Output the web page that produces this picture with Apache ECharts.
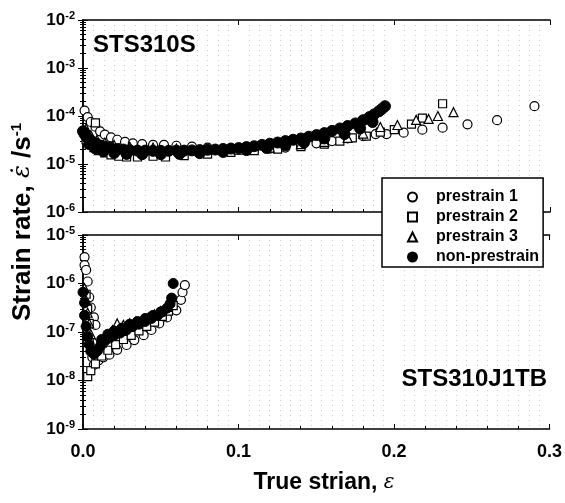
<!DOCTYPE html>
<html>
<head>
<meta charset="utf-8">
<script src="https://cdn.jsdelivr.net/npm/echarts@6/dist/echarts.min.js"></script>
<style>
  html, body { margin: 0; padding: 0; background: #fff; }
  #main { width: 565px; height: 503px; }
</style>
</head>
<body>
<div id="main"></div>
<script>
// legend / series names
const seriesNames = ['prestrain 1', 'prestrain 2', 'prestrain 3', 'non-prestrain'];
const xTicks = [0, 0.1, 0.2, 0.3];

// upper panel (STS310S): [true strain, strain rate]
const topPrestrain1 = [
  [0.001,1.3e-4],[0.003,9.5e-5],[0.005,7.5e-5],[0.008,6e-5],[0.011,4.8e-5],[0.014,4.1e-5],
  [0.018,3.6e-5],[0.022,3.2e-5],[0.027,2.9e-5],[0.032,2.7e-5],[0.038,2.6e-5],[0.045,2.5e-5],
  [0.052,2.5e-5],[0.060,2.4e-5],[0.070,2.3e-5],[0.080,2.2e-5],[0.090,2.1e-5],[0.100,2.0e-5],
  [0.110,2.0e-5],[0.120,2.1e-5],[0.130,2.2e-5],[0.140,2.4e-5],[0.150,2.7e-5],[0.160,3.0e-5],
  [0.170,3.4e-5],[0.180,3.8e-5],[0.188,4.2e-5],[0.195,4.2e-5],[0.206,4.5e-5],[0.218,5.2e-5],
  [0.231,5.7e-5],[0.247,6.7e-5],[0.266,8.2e-5],[0.290,1.6e-4]
];
const topPrestrain2 = [
  [0.008,7.2e-5],[0.002,3.2e-5],[0.004,2.6e-5],[0.007,2.2e-5],[0.010,1.9e-5],[0.014,1.7e-5],
  [0.018,1.55e-5],[0.023,1.45e-5],[0.028,1.4e-5],[0.035,1.4e-5],[0.045,1.45e-5],[0.053,1.4e-5],
  [0.065,1.5e-5],[0.080,1.6e-5],[0.095,1.75e-5],[0.110,1.9e-5],[0.125,2.05e-5],[0.140,2.3e-5],
  [0.155,2.6e-5],[0.165,3.0e-5],[0.173,3.5e-5],[0.182,3.8e-5],[0.191,4.6e-5],[0.200,5.2e-5],
  [0.211,6.8e-5],[0.218,9e-5],[0.231,1.8e-4]
];
const topPrestrain3 = [
  [0.002,5.5e-5],[0.005,4e-5],[0.009,3.2e-5],[0.014,2.8e-5],[0.020,2.5e-5],[0.030,2.3e-5],
  [0.045,2.2e-5],[0.060,2.1e-5],[0.080,2.0e-5],[0.100,2.0e-5],[0.120,2.2e-5],[0.140,2.6e-5],
  [0.155,2.9e-5],[0.170,3.5e-5],[0.180,4.3e-5],[0.191,5.9e-5],[0.202,6.5e-5],[0.214,8.3e-5],
  [0.222,8.7e-5],[0.228,1.0e-4],[0.238,1.2e-4]
];
const topNonPrestrain = [
  [0.000,4.8e-5],[0.001,4.2e-5],[0.002,3.8e-5],[0.003,3.5e-5],[0.005,3.1e-5],[0.007,2.8e-5],
  [0.009,2.6e-5],[0.012,2.4e-5],[0.015,2.25e-5],[0.018,2.15e-5],[0.022,2.05e-5],[0.026,2.0e-5],
  [0.030,1.95e-5],[0.035,1.9e-5],[0.040,1.9e-5],[0.045,1.88e-5],[0.050,1.88e-5],[0.055,1.88e-5],
  [0.060,1.9e-5],[0.065,1.9e-5],[0.070,1.92e-5],[0.075,1.95e-5],[0.080,1.98e-5],[0.085,2.0e-5],
  [0.090,2.05e-5],[0.095,2.1e-5],[0.100,2.15e-5],[0.105,2.25e-5],[0.110,2.35e-5],[0.115,2.5e-5],
  [0.120,2.65e-5],[0.125,2.8e-5],[0.130,3.0e-5],[0.135,3.2e-5],[0.140,3.4e-5],[0.145,3.7e-5],
  [0.150,4.0e-5],[0.155,4.4e-5],[0.160,4.9e-5],[0.165,5.5e-5],[0.170,6.2e-5],[0.175,7.0e-5],
  [0.180,8.2e-5],[0.184,9.5e-5],[0.187,1.08e-4],[0.190,1.25e-4],[0.192,1.4e-4],[0.194,1.6e-4],
  [0.004,2.6e-5],[0.008,2.1e-5],[0.013,1.85e-5],[0.020,1.7e-5],[0.028,1.62e-5],[0.038,1.6e-5],
  [0.050,1.6e-5],[0.062,1.62e-5],[0.075,1.68e-5],[0.090,1.78e-5],[0.105,1.95e-5],[0.118,2.15e-5],
  [0.130,2.45e-5],[0.142,2.8e-5],[0.155,3.4e-5],[0.168,4.2e-5],[0.178,5.5e-5],[0.186,7.5e-5]
];

// lower panel (STS310J1TB)
const botPrestrain1 = [
  [0.001,3.5e-6],[0.001,2.4e-6],[0.002,1.9e-6],[0.003,1.1e-6],[0.004,5.2e-7],[0.005,3.2e-7],
  [0.007,2e-7],[0.008,1.4e-7],[0.006,6e-8],[0.006,3e-8],[0.007,2.1e-8],[0.010,2.6e-8],
  [0.013,3e-8],[0.017,3.4e-8],[0.022,4.3e-8],[0.028,5.4e-8],[0.033,6.8e-8],[0.039,8.6e-8],
  [0.044,1.1e-7],[0.049,1.5e-7],[0.054,2e-7],[0.060,2.8e-7],[0.063,4.6e-7],[0.064,6.6e-7],
  [0.0655,9.3e-7]
];
const botPrestrain2 = [
  [0.002,6e-7],[0.003,3e-7],[0.004,1.5e-7],[0.004,6e-8],[0.003,1.2e-8],[0.005,1.6e-8],
  [0.008,2.2e-8],[0.012,3.2e-8],[0.016,4.2e-8],[0.021,5.5e-8],[0.026,7e-8],[0.031,8.5e-8],
  [0.036,1.05e-7],[0.041,1.3e-7],[0.046,1.6e-7],[0.051,2.1e-7],[0.055,2.7e-7],[0.058,3.5e-7]
];
const botPrestrain3 = [
  [0.001,8e-7],[0.002,4.5e-7],[0.003,2.5e-7],[0.004,1.5e-7],[0.005,9e-8],[0.006,5e-8],
  [0.009,4.5e-8],[0.012,6e-8],[0.015,8e-8],[0.019,1.1e-7],[0.022,1.5e-7],[0.026,1.4e-7],
  [0.030,1.5e-7],[0.034,1.6e-7],[0.038,1.75e-7],[0.042,2e-7],[0.046,2.3e-7],[0.050,2.7e-7],
  [0.054,3.3e-7]
];
const botNonPrestrain = [
  [0.000,6.6e-7],[0.001,4e-7],[0.001,2.2e-7],[0.002,1.3e-7],[0.003,8e-8],[0.004,5.5e-8],
  [0.005,4e-8],[0.007,3.5e-8],[0.009,4e-8],[0.011,5e-8],[0.014,6.5e-8],[0.017,7.5e-8],
  [0.020,8.5e-8],[0.024,9.5e-8],[0.028,1.1e-7],[0.032,1.3e-7],[0.036,1.45e-7],[0.040,1.65e-7],
  [0.044,1.9e-7],[0.048,2.2e-7],[0.051,2.6e-7],[0.054,3.1e-7],[0.056,3.8e-7],[0.057,5e-7],
  [0.058,1.0e-6],
  [0.012,7e-8],[0.016,9e-8],[0.020,1.05e-7],[0.025,1.2e-7],[0.030,1.45e-7],[0.035,1.65e-7],
  [0.040,1.9e-7],[0.045,2.2e-7],[0.050,2.6e-7]
];

const FONT = 'Liberation Sans';
const myChart = echarts.init(document.getElementById('main'));

const powRich = {
  b: { fontFamily: FONT, fontSize: 17, fontWeight: 'bold', color: '#000' },
  s: { fontFamily: FONT, fontSize: 11, fontWeight: 'bold', color: '#000', verticalAlign: 'bottom', padding: [0, 0, 9, 0] }
};
function powLabel(v) {
  const e = Math.round(Math.log10(v));
  return '{b|10}{s|' + (e < 0 ? '-' + (-e) : e) + '}';
}

function xAx(gridIndex, pos, showLabel) {
  return {
    type: 'value', gridIndex: gridIndex, position: pos,
    min: 0, max: 0.3, interval: 0.1,
    axisLine: { show: true, onZero: false, lineStyle: { color: '#000', width: 1.5 } },
    axisTick: { show: true, inside: true, length: 5, lineStyle: { color: '#000' } },
    minorTick: { show: pos === 'bottom', splitNumber: pos === 'bottom' ? 5 : 15, length: 3, lineStyle: { color: '#000' } },
    splitLine: { show: false },
    minorSplitLine: pos === 'top'
      ? { show: true, lineStyle: { color: '#cfcfcf', type: [1, 4], width: 1 } }
      : { show: false },
    axisLabel: {
      show: showLabel, margin: 14, fontFamily: FONT, fontSize: 18, fontWeight: 'bold', color: '#000',
      formatter: function (v) { return v.toFixed(1); }
    }
  };
}
function yAx(gridIndex, pos, min, max) {
  return {
    type: 'log', logBase: 10, gridIndex: gridIndex, position: pos,
    min: min, max: max,
    axisLine: { show: true, lineStyle: { color: '#000', width: 1.5 } },
    axisTick: { show: true, inside: true, length: 5, lineStyle: { color: '#000' } },
    minorTick: { show: true, splitNumber: 9, length: 3, lineStyle: { color: '#000' } },
    splitLine: { show: false },
    axisLabel: {
      show: pos === 'left', margin: 8, formatter: powLabel, rich: powRich
    }
  };
}

const openStyle = { color: '#fff', borderColor: '#000', borderWidth: 1.2, opacity: 1 };
const filled = { color: '#000', borderColor: '#000', borderWidth: 1, opacity: 1 };
function sc(name, data, sym, size, gi, style) {
  return {
    name: name, type: 'scatter', data: data, symbol: sym, symbolSize: size,
    xAxisIndex: gi * 2, yAxisIndex: gi * 2, itemStyle: style, emphasis: { disabled: true }
  };
}

myChart.setOption({
  animation: false,
  backgroundColor: '#fff',
  grid: [
    { left: 83, top: 20, width: 467, height: 192 },
    { left: 83, top: 235, width: 467, height: 194 }
  ],
  xAxis: [xAx(0, 'bottom', false), xAx(0, 'top', false), xAx(1, 'bottom', true), xAx(1, 'top', false)],
  yAxis: [yAx(0, 'left', 1e-6, 1e-2), yAx(0, 'right', 1e-6, 1e-2), yAx(1, 'left', 1e-9, 1e-5), yAx(1, 'right', 1e-9, 1e-5)],
  legend: {
    data: seriesNames, orient: 'vertical', left: 382, top: 178,
    padding: [11, 4, 2, 25], itemGap: 4, itemWidth: 9, itemHeight: 9,
    backgroundColor: '#fff', borderColor: '#000', borderWidth: 1.5,
    textStyle: { fontFamily: FONT, fontSize: 16, fontWeight: 'bold', color: '#000', lineHeight: 16, padding: [0, 0, 0, 14] },
    z: 10
  },
  graphic: [
    { type: 'text', left: 93, top: 33, z: 20,
      style: { text: 'STS310S', fontFamily: FONT, fontSize: 24, fontWeight: 'bold', fill: '#000' } },
    { type: 'text', right: 18, top: 367, z: 20,
      style: { text: 'STS310J1TB', fontFamily: FONT, fontSize: 24, fontWeight: 'bold', fill: '#000' } },
    { type: 'text', x: 324, y: 483, z: 20,
      style: {
        text: '{b|True strian, }{e|ε}', textAlign: 'center', textVerticalAlign: 'middle',
        rich: {
          b: { fontFamily: FONT, fontSize: 23, fontWeight: 'bold', fill: '#000' },
          e: { fontFamily: 'DejaVu Serif', fontSize: 20, fontStyle: 'italic', fill: '#000' }
        }
      } },
    { type: 'text', x: 23, y: 222, rotation: Math.PI / 2, z: 20,
      style: {
        text: '{b|Strain rate, }{e|ε̇}{b| /s}{s|-1}', textAlign: 'center', textVerticalAlign: 'middle',
        rich: {
          b: { fontFamily: FONT, fontSize: 26, fontWeight: 'bold', fill: '#000' },
          e: { fontFamily: 'DejaVu Serif', fontSize: 24, fontStyle: 'italic', fill: '#000' },
          s: { fontFamily: FONT, fontSize: 15, fontWeight: 'bold', fill: '#000', verticalAlign: 'bottom', padding: [0, 0, 13, 0] }
        }
      } }
  ],
  series: [
    sc(seriesNames[0], topPrestrain1, 'circle', 9, 0, openStyle),
    sc(seriesNames[1], topPrestrain2, 'rect', 8, 0, openStyle),
    sc(seriesNames[2], topPrestrain3, 'triangle', 9, 0, openStyle),
    sc(seriesNames[3], topNonPrestrain, 'circle', 11, 0, filled),
    sc(seriesNames[0], botPrestrain1, 'circle', 9, 1, openStyle),
    sc(seriesNames[1], botPrestrain2, 'rect', 8, 1, openStyle),
    sc(seriesNames[2], botPrestrain3, 'triangle', 9, 1, openStyle),
    sc(seriesNames[3], botNonPrestrain, 'circle', 10, 1, filled)
  ]
});
window.onresize = function () { myChart.resize(); };
</script>
</body>
</html>
